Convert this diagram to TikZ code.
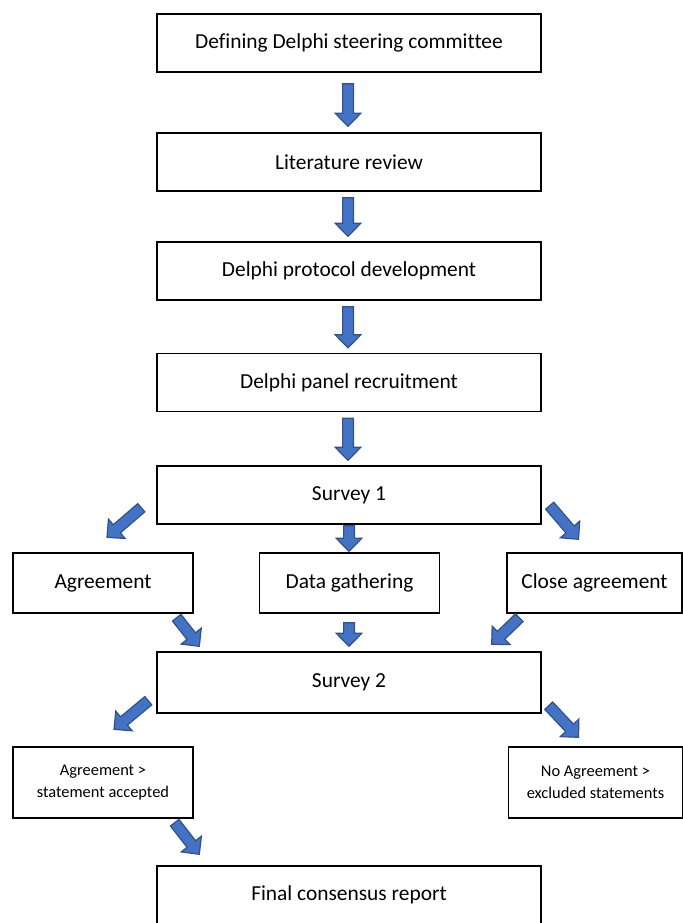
\documentclass[tikz,border=0pt]{standalone}
\usepackage{fontspec}
\setmainfont[Ligatures=NoCommon]{Carlito}
\usetikzlibrary{calc}
\definecolor{arrowblue}{HTML}{4472C4}
\definecolor{arrowedge}{HTML}{2F528F}

% block arrow from tail #1 to tip #2
\newcommand\blockarrow[2]{%
  \path #1 coordinate (ba-s) #2 coordinate (ba-e);
  \coordinate (ba-h) at ($(ba-e)!\hl!(ba-s)$);
  \filldraw[fill=arrowblue,draw=arrowedge,line width=0.6pt,line join=miter]
    ($(ba-s)!\sw!90:(ba-e)$) -- ($(ba-h)!\sw!-90:(ba-s)$) -- ($(ba-h)!\hw!-90:(ba-s)$)
    -- (ba-e) -- ($(ba-h)!\hw!90:(ba-s)$) -- ($(ba-h)!\sw!90:(ba-s)$)
    -- ($(ba-s)!\sw!-90:(ba-e)$) -- cycle;}

\begin{document}
\begin{tikzpicture}[x=0.5pt,y=-0.5pt,
  box/.style={draw,line width=0.7pt,inner sep=0pt,minimum width=192pt,minimum height=29pt,
    font=\fontsize{10.7}{12.5}\selectfont},
  sidebox/.style={box,minimum width=90pt,minimum height=30pt},
  notebox/.style={box,minimum width=90pt,minimum height=35.5pt,align=center,
    font=\fontsize{8.2}{11}\selectfont}]
\def\sw{2.7pt}
\def\hw{6.4pt}
\def\hl{6.5pt}
\useasboundingbox (0,0) rectangle (683,923);
\clip (0,0) rectangle (683,923);

\node[box] (def) at (349,43) {Defining Delphi steering committee};
\node[box] (lit) at (349,162) {Literature review};
\node[box] (prot) at (349,271) {Delphi protocol development};
\node[box] (panel) at (349,382.5) {Delphi panel recruitment};
\node[box] (s1) at (349,495) {Survey 1};

\node[sidebox] (agr) at (103,583) {Agreement};
\node[sidebox] (data) at (349.5,583) {Data gathering};
\node[sidebox,minimum width=87.5pt] (close) at (594.5,583) {Close agreement};

\node[box,minimum height=30.5pt] (s2) at (349,682.5) {Survey 2};
\node[notebox] (acc) at (103,782.5) {Agreement >\\statement accepted};
\node[notebox,minimum width=87pt] (noagr) at (595.5,782.5) {No Agreement >\\excluded statements};

\node[box] (final) at (349,895) {Final consensus report};

% arrows down the main line
\blockarrow{($(def.south)+(-1,11)$)}{($(lit.north)+(-1,-6)$)}
\blockarrow{($(lit.south)+(-1,6)$)}{($(prot.north)+(-1,-5)$)}
\blockarrow{($(prot.south)+(-1,6)$)}{($(panel.north)+(-1,-5)$)}
\blockarrow{($(panel.south)+(-1,6)$)}{($(s1.north)+(-1,-5)$)}

% survey 1 split
\blockarrow{($(s1.south west)+(-15,-17)$)}{($(agr.north)+(4,-15)$)}
\blockarrow{($(s1.south)+(0,1)$)}{($(data.north)+(-0.5,-1)$)}
\blockarrow{($(s1.south east)+(8,-19)$)}{($(close.north)+(-16,-13)$)}

% into survey 2
\blockarrow{($(agr.south east)+(-17,4)$)}{($(s2.north west)+(43,-5)$)}
\blockarrow{($(data.south)+(-0.5,9)$)}{($(s2.north)+(0,-5)$)}
\blockarrow{($(close.south west)+(13,4)$)}{($(s2.north east)+(-50,-7)$)}

% survey 2 outcomes
\blockarrow{($(s2.south west)+(-8,-13)$)}{($(acc.north)+(11,-17)$)}
\blockarrow{($(s2.south east)+(7,-8)$)}{($(noagr.north)+(-17,-9)$)}
\blockarrow{($(acc.south east)+(-19,4)$)}{($(final.north west)+(43,-11)$)}
\end{tikzpicture}
\end{document}
